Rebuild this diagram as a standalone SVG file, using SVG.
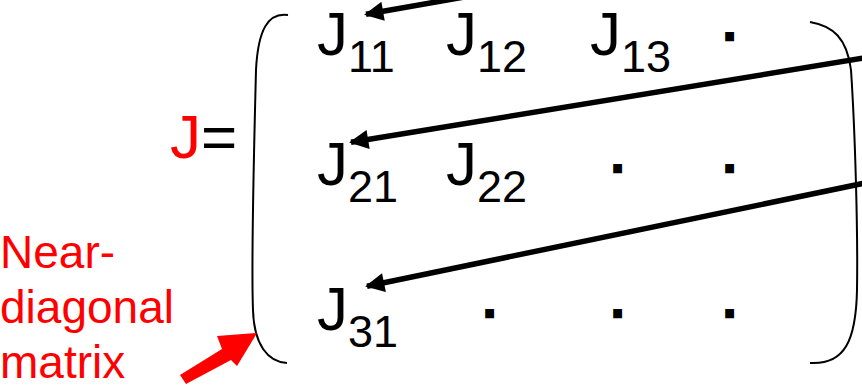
<svg xmlns="http://www.w3.org/2000/svg" width="862" height="388" viewBox="0 0 862 388">
<defs>
<marker id="ah" viewBox="0 0 10 10" refX="9" refY="5" markerWidth="4" markerHeight="3.5" orient="auto" markerUnits="strokeWidth">
<path d="M0,0 L10,5 L0,10 z" fill="#000"/>
</marker>
</defs>
<style>
.t{font-family:"Liberation Sans",Arial,sans-serif;fill:#000}
.m{font-size:62px}
.s{font-size:45px}
.d{font-size:44px;font-weight:bold;text-anchor:middle;stroke:#000;stroke-width:2.6}
.r{fill:#ff0000}
.lbl{font-family:"Liberation Sans",Arial,sans-serif;font-size:46px;fill:#ff0000}
.br{fill:none;stroke:#000;stroke-width:2}
.con{fill:none;stroke:#000;stroke-width:5.5;marker-end:url(#ah)}
</style>
<rect width="862" height="388" fill="#fff"/>
<g id="label-J">
<text class="t m" x="170" y="158"><tspan class="r">J</tspan>=</text>
</g>
<g id="bracket-left">
<path class="br" d="M288,15 C268,12 258,30 256,70 C254,150 251,260 253,310 C254,345 268,362 287,363"/>
</g>
<g id="bracket-right">
<path class="br" d="M810,22 C833,26 847,38 851,70 C855,130 858,230 857,290 C856,340 845,365 810,363"/>
</g>
<g id="J11"><text class="t m" x="317" y="55">J<tspan class="s" dy="17">11</tspan></text></g>
<g id="J12"><text class="t m" x="446" y="55">J<tspan class="s" dy="17">12</tspan></text></g>
<g id="J13"><text class="t m" x="590" y="55">J<tspan class="s" dy="17">13</tspan></text></g>
<g id="J21"><text class="t m" x="317" y="185">J<tspan class="s" dy="17">21</tspan></text></g>
<g id="J22"><text class="t m" x="446" y="185">J<tspan class="s" dy="17">22</tspan></text></g>
<g id="J31"><text class="t m" x="317" y="330">J<tspan class="s" dy="17">31</tspan></text></g>
<g id="dots">
<text class="t d" x="729.5" y="40">.</text>
<text class="t d" x="617.5" y="172">.</text>
<text class="t d" x="729.5" y="172">.</text>
<text class="t d" x="489.5" y="317">.</text>
<text class="t d" x="617.5" y="317">.</text>
<text class="t d" x="729.5" y="317">.</text>
</g>
<g id="label-near-diagonal">
<text class="lbl" x="0" y="268">Near-</text>
<text class="lbl" x="0" y="323">diagonal</text>
<text class="lbl" x="0" y="378">matrix</text>
</g>
<g id="connectors">
<path class="con" d="M470,-4 L366,14.3"/>
<path class="con" d="M870,57 L351,142.3"/>
<path class="con" d="M870,182 L367,286.2"/>
<polygon fill="#ff0000" points="180,375 222,349 217,336 257,333 237,366 231,360 186,384"/>
</g>
</svg>
